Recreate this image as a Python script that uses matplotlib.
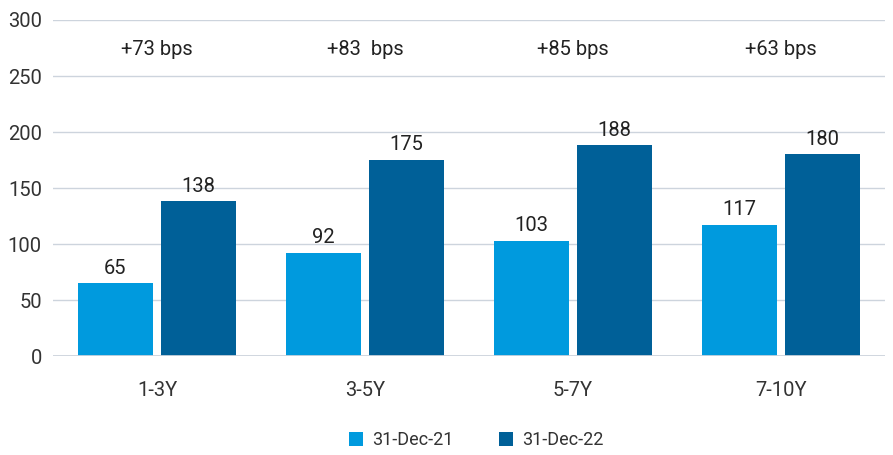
import matplotlib
matplotlib.use("Agg")
import matplotlib.pyplot as plt
import numpy as np

categories = ["1-3Y", "3-5Y", "5-7Y", "7-10Y"]
dec21 = [65, 92, 103, 117]
dec22 = [138, 175, 188, 180]
bps_labels = ["+73 bps", "+83  bps", "+85 bps", "+63 bps"]
series_names = ["31-Dec-21", "31-Dec-22"]
yticks = [0, 50, 100, 150, 200, 250, 300]

plt.rcParams['font.family'] = ['Roboto', 'DejaVu Sans']

fig = plt.figure(figsize=(8.93, 4.55), dpi=100)
ax = fig.add_axes([53/893, 1-356/455, (885-53)/893, 336/455])

x = np.arange(len(categories))
w = 0.36
c1, c2 = "#009ADE", "#006098"
b1 = ax.bar(x - 0.2, dec21, w, color=c1, label=series_names[0], zorder=3)
b2 = ax.bar(x + 0.2, dec22, w, color=c2, label=series_names[1], zorder=3)

for xi, v in zip(x - 0.2, dec21):
    ax.text(xi, v + 5, str(v), ha='center', va='bottom', fontsize=14.5, color='#222222')
for xi, v in zip(x + 0.2, dec22):
    ax.text(xi, v + 5, str(v), ha='center', va='bottom', fontsize=14.5, color='#222222')
for xi, t in zip(x, bps_labels):
    ax.text(xi, 274, t, ha='center', va='center', fontsize=14.5, color='#222222')

ax.set_xlim(-0.5, 3.5)
ax.set_ylim(0, 300)
ax.set_yticks(yticks)
ax.set_xticks(x)
ax.set_xticklabels(categories)
ax.tick_params(axis='both', length=0, labelsize=14.5, colors='#333333')
ax.tick_params(axis='x', pad=18)
ax.tick_params(axis='y', pad=8)
ax.grid(axis='y', color='#CDD4DD', linewidth=1, zorder=0)
ax.axhline(0, color='#CDD4DD', linewidth=2, zorder=4)
for s in ax.spines.values():
    s.set_visible(False)

leg = fig.legend(handles=[b1, b2], labels=series_names, loc='center',
                 bbox_to_anchor=(476/893, 1-440/455), ncol=2, frameon=False,
                 prop={'family': ['Roboto', 'DejaVu Sans'], 'size': 13},
                 handlelength=0.8, handleheight=0.8, columnspacing=2.5, handletextpad=0.5)
for t in leg.get_texts():
    t.set_color('#333333')

fig.savefig("out.png", dpi=100)
